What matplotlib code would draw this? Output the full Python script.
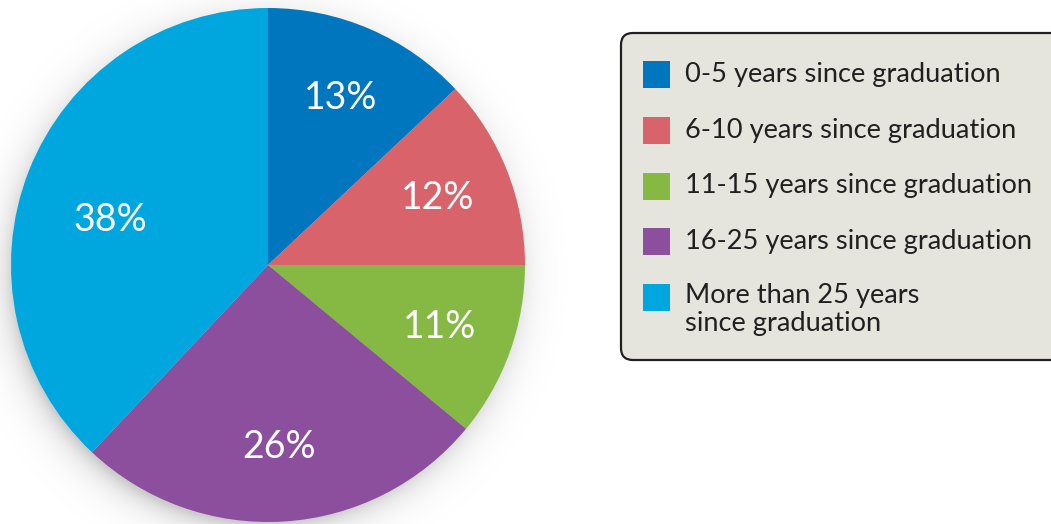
import numpy as np
import matplotlib.pyplot as plt
from matplotlib.patches import FancyBboxPatch, Rectangle

# data
labels = ["0-5 years since graduation", "6-10 years since graduation",
          "11-15 years since graduation", "16-25 years since graduation",
          "More than 25 years\nsince graduation"]
shares = [13, 12, 11, 26, 38]
colors = ["#0076bf", "#d8636a", "#86b844", "#8c4f9d", "#00a6de"]

plt.rcParams['font.family'] = ['Lato', 'DejaVu Sans']

W, H = 1051, 524
fig = plt.figure(figsize=(W / 100, H / 100), dpi=100)

# pie axes, center (268, 265) px, radius 257 px
cx, cy, r = 268, 265, 257
ax = fig.add_axes([(cx - r) / W, (H - cy - r) / H, 2 * r / W, 2 * r / H])

# soft shadow behind the pie (radial gradient image)
g = np.linspace(-1.25, 1.25, 600)
gx, gy = np.meshgrid(g, g)
d = np.hypot(gx + 0.02, gy + 0.035)
alpha = 0.2 * np.exp(-np.clip(d - 0.97, 0, None) / 0.055)
rgba = np.zeros(gx.shape + (4,))
rgba[..., 3] = alpha
ax.imshow(rgba, extent=(-1.25, 1.25, -1.25, 1.25), origin="lower",
          zorder=0, clip_on=False, interpolation="bilinear")

wedges, texts, autotexts = ax.pie(
    shares, colors=colors, startangle=90, counterclock=False, radius=1,
    autopct="%d%%", pctdistance=0.71,
    wedgeprops=dict(linewidth=0),
    textprops=dict(color="white", fontsize=27))
for w in wedges:
    w.set_zorder(2)
for t in autotexts:
    t.set_zorder(3)
# the large slice's label sits a bit closer to the centre
a = np.deg2rad(164)
autotexts[-1].set_position((0.64 * np.cos(a), 0.64 * np.sin(a)))
ax.set_xlim(-1, 1)
ax.set_ylim(-1, 1)
ax.set_aspect("equal")
ax.axis("off")

# legend drawn in pixel coordinates
lx = fig.add_axes([0, 0, 1, 1])
lx.set_xlim(0, W)
lx.set_ylim(H, 0)
lx.axis("off")
lx.add_patch(FancyBboxPatch((621, 33), 460, 327,
                            boxstyle="round,pad=0,rounding_size=12",
                            facecolor="#e6e5dd", edgecolor="#231f20",
                            linewidth=1.6, clip_on=False))
row_y = [74.5, 130.5, 186, 241.5, 297.5]
for lab, col, y in zip(labels, colors, row_y):
    lx.add_patch(Rectangle((643, y - 13.5), 27, 27, facecolor=col, lw=0))
    if "\n" in lab:
        lx.text(685, y - 15, lab, fontsize=19.6, color="#231f20",
                va="top", ha="left", linespacing=1.2)
    else:
        lx.text(685, y, lab, fontsize=19.6, color="#231f20",
                va="center", ha="left")

fig.savefig("out.png", dpi=100)
